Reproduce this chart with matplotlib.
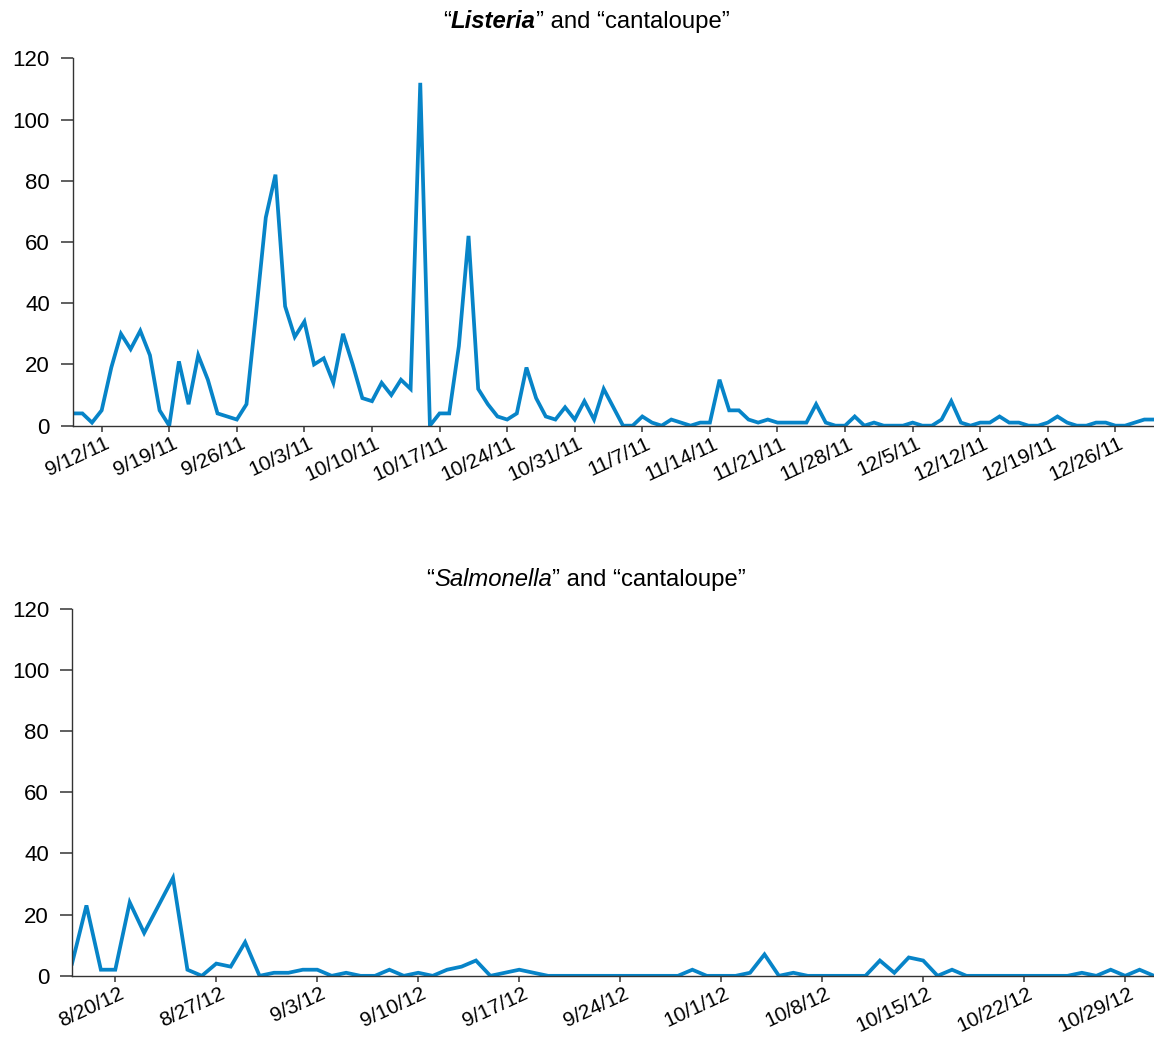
import matplotlib
matplotlib.use("Agg")
import matplotlib.pyplot as plt
import matplotlib.dates as mdates
import matplotlib.transforms as mtransforms
import pandas as pd

plt.rcParams['font.family'] = ['Liberation Sans', 'DejaVu Sans']

# daily counts, "Listeria" and "cantaloupe", starting 9/9/11
listeria_start = "2011-09-09"
listeria = [4, 4, 1, 5, 19, 30, 25, 31, 23, 5,
            0, 21, 7, 23, 15, 4, 3, 2, 7, 37,
            68, 82, 39, 29, 34, 20, 22, 14, 30, 20,
            9, 8, 14, 10, 15, 12, 112, 0, 4, 4,
            26, 62, 12, 7, 3, 2, 4, 19, 9, 3,
            2, 6, 2, 8, 2, 12, 6, 0, 0, 3,
            1, 0, 2, 1, 0, 1, 1, 15, 5, 5,
            2, 1, 2, 1, 1, 1, 1, 7, 1, 0,
            0, 3, 0, 1, 0, 0, 0, 1, 0, 0,
            2, 8, 1, 0, 1, 1, 3, 1, 1, 0,
            0, 1, 3, 1, 0, 0, 1, 1, 0, 0,
            1, 2, 2]

# daily counts, "Salmonella" and "cantaloupe", starting 8/17/12
salmonella_start = "2012-08-17"
salmonella = [4, 23, 2, 2, 24, 14, 23, 32, 2, 0,
              4, 3, 11, 0, 1, 1, 2, 2, 0, 1,
              0, 0, 2, 0, 1, 0, 2, 3, 5, 0,
              1, 2, 1, 0, 0, 0, 0, 0, 0, 0,
              0, 0, 0, 2, 0, 0, 0, 1, 7, 0,
              1, 0, 0, 0, 0, 0, 5, 1, 6, 5,
              0, 2, 0, 0, 0, 0, 0, 0, 0, 0,
              1, 0, 2, 0, 2, 0]

COLOR = "#0784c8"
FS = 16


def date_fmt(x, pos=None):
    d = mdates.num2date(x)
    return "{}/{}/{}".format(d.month, d.day, d.year % 100)


def draw_series(fig, ax, start, values):
    dates = pd.date_range(start, periods=len(values), freq="D")
    ax.plot(dates, values, color=COLOR, linewidth=2.7, solid_joinstyle="miter")
    ax.set_xlim(dates[0], dates[-1])
    ax.set_ylim(0, 120)
    ax.set_yticks(range(0, 121, 20))
    ax.xaxis.set_major_locator(mdates.WeekdayLocator(byweekday=mdates.MO))
    ax.xaxis.set_major_formatter(plt.FuncFormatter(date_fmt))
    for s in ["top", "right"]:
        ax.spines[s].set_visible(False)
    for s in ["left", "bottom"]:
        ax.spines[s].set_color("#333333")
        ax.spines[s].set_linewidth(1.0)
    ax.tick_params(axis="y", length=8.5, width=1.2, color="#444444",
                   pad=8, labelsize=FS)
    ax.tick_params(axis="x", length=4.5, width=1.2, color="#444444",
                   pad=1.5, labelsize=15)
    shift = mtransforms.ScaledTranslation(3 / 100, 0, fig.dpi_scale_trans)
    for lab in ax.get_xticklabels():
        lab.set_rotation(25)
        lab.set_ha("right")
        lab.set_va("top")
        lab.set_rotation_mode("anchor")
        lab.set_transform(lab.get_transform() + shift)


def rich_title(fig, pieces, xc, y):
    # pieces: list of (text, weight, style); drawn side by side, centred at xc
    texts = []
    for s, w, st in pieces:
        texts.append(fig.text(0, y, s, fontsize=17.2, fontweight=w, fontstyle=st,
                              va="center", ha="left", transform=None))
    fig.canvas.draw()
    r = fig.canvas.get_renderer()
    widths = [t.get_window_extent(r).width for t in texts]
    x = xc - sum(widths) / 2
    for t, w in zip(texts, widths):
        t.set_x(x)
        x += w


fig = plt.figure(figsize=(11.54, 10.42), dpi=100)
ax1 = fig.add_axes([0.063, 0.5915, 0.937, 0.3525])
ax2 = fig.add_axes([0.0624, 0.0635, 0.9376, 0.3525])

draw_series(fig, ax1, listeria_start, listeria)
draw_series(fig, ax2, salmonella_start, salmonella)

H = 1042
rich_title(fig, [("\u201c", "normal", "normal"),
                 ("Listeria", "bold", "italic"),
                 ("\u201d and \u201ccantaloupe\u201d", "normal", "normal")],
           586, H - 22)
rich_title(fig, [("\u201c", "normal", "normal"),
                 ("Salmonella", "normal", "italic"),
                 ("\u201d and \u201ccantaloupe\u201d", "normal", "normal")],
           586, H - 580)

fig.savefig("out.png", dpi=100)
